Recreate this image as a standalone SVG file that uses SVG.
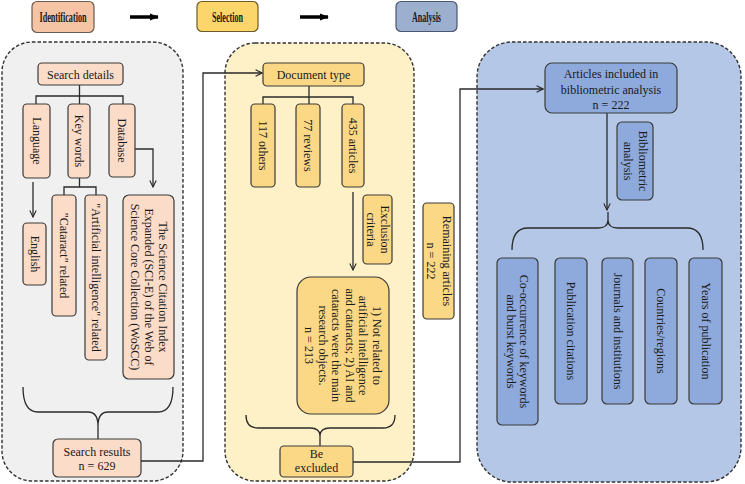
<svg xmlns="http://www.w3.org/2000/svg" width="745" height="484" viewBox="0 0 745 484">
<defs>
<style>
.t{font-family:"Liberation Serif","Times New Roman",serif;font-size:12px;fill:#1a1a1a;text-anchor:middle}
.h{font-family:"Liberation Serif","Times New Roman",serif;font-size:14.5px;font-weight:bold;fill:#1a1a1a;text-anchor:middle}
.panel{stroke:#333;stroke-width:1.4;stroke-dasharray:3.5,2}
.bx{stroke:#3a3a3a;stroke-width:1.2}
.pi{fill:#FADCC9}
.ys{fill:#FBD885}
.bl{fill:#8EA9DB}
.ln{fill:none;stroke:#2a2a2a;stroke-width:1.3}
</style>
<marker id="arr" viewBox="0 0 10 10" refX="9" refY="5" markerWidth="8" markerHeight="8" orient="auto" markerUnits="userSpaceOnUse"><path d="M1,1 L9,5 L1,9" fill="none" stroke="#2a2a2a" stroke-width="1.4"/></marker>
<marker id="big" viewBox="0 0 10 10" refX="9" refY="5" markerWidth="9" markerHeight="9" orient="auto" markerUnits="userSpaceOnUse"><path d="M0,1 L10,5 L0,9 Z" fill="#000"/></marker>
</defs>

<!-- headers -->
<g id="hdr-identification"><rect x="32" y="1.5" width="62" height="31" rx="5" fill="#F5C4A5" stroke="#6b5a50" stroke-width="1.2"/><text class="h" x="63" y="22" textLength="47" lengthAdjust="spacingAndGlyphs">Identification</text></g>
<g id="hdr-selection"><rect x="197" y="1.5" width="61" height="30" rx="5" fill="#FDD66B" stroke="#6b5a2a" stroke-width="1.2"/><text class="h" x="227.5" y="21.5" textLength="31" lengthAdjust="spacingAndGlyphs">Selection</text></g>
<g id="hdr-analysis"><rect x="396" y="1.5" width="61" height="30" rx="5" fill="#9CAFCF" stroke="#4a5570" stroke-width="1.2"/><text class="h" x="426.5" y="21.5" textLength="29" lengthAdjust="spacingAndGlyphs">Analysis</text></g>

<!-- panels -->
<g id="panel-identification"><rect class="panel" x="2" y="42" width="181" height="439" rx="30" fill="#F0F0F0"/></g>
<g id="panel-selection"><rect class="panel" x="225" y="43" width="189" height="438" rx="30" fill="#FEF0C7"/></g>
<g id="panel-analysis"><rect class="panel" x="477" y="42" width="264" height="440" rx="35" fill="#B4C7E7"/></g>

<!-- connectors -->
<g id="connectors">
<path d="M130,17 H158" stroke="#000" stroke-width="3.5" fill="none" marker-end="url(#big)"/>
<path d="M300,17 H328" stroke="#000" stroke-width="3.5" fill="none" marker-end="url(#big)"/>
<path class="ln" d="M79.5,85 V96 M36,104 V96 H123 V104 M79.5,96 V104"/>
<path class="ln" d="M33,182 V217" marker-end="url(#arr)"/>
<path class="ln" d="M79.5,178 V187 M64,195 V187 H96 V195"/>
<path class="ln" d="M135,149 H153 V187" marker-end="url(#arr)"/>
<path class="ln" d="M23,387 Q23,412 38,412 H88 Q98,412 98,426 V439 M173,387 Q173,412 158,412 H108 Q98,412 98,426"/>
<path class="ln" d="M141,461 H203 V73 H262" marker-end="url(#arr)"/>
<path class="ln" d="M309,86 V97 M263,104 V97 H353 V104 M309,97 V104"/>
<path class="ln" d="M353,192 V270" marker-end="url(#arr)"/>
<path class="ln" d="M246,415 Q246,428 258,428 H310 Q320,428 320,436 V446 M395,415 Q395,428 383,428 H330 Q320,428 320,436"/>
<path class="ln" d="M353,462 H460 V89 H543" marker-end="url(#arr)"/>
<path class="ln" d="M607,113 V210" marker-end="url(#arr)"/>
<path class="ln" d="M512,250 Q512,228 528,228 H598 Q608,228 608,220 V212 M703,250 Q703,228 687,228 H618 Q608,228 608,220"/>
</g>

<!-- identification nodes -->
<g id="search-details"><rect class="bx pi" x="38" y="63" width="85" height="22" rx="4"/><text class="t" x="80.5" y="78.5">Search details</text></g>
<g id="language"><rect class="bx pi" x="23" y="104" width="27" height="74" rx="4"/><text class="t" transform="translate(36.5,141) rotate(90)" x="0" y="4">Language</text></g>
<g id="key-words"><rect class="bx pi" x="68" y="104" width="22" height="74" rx="4"/><text class="t" transform="translate(79,141) rotate(90)" x="0" y="4">Key words</text></g>
<g id="database"><rect class="bx pi" x="109" y="104" width="26" height="73" rx="4"/><text class="t" transform="translate(122,140.5) rotate(90)" x="0" y="4">Database</text></g>
<g id="english"><rect class="bx pi" x="23" y="223" width="23" height="62" rx="4"/><text class="t" transform="translate(34.5,254) rotate(90)" x="0" y="4">English</text></g>
<g id="cataract"><rect class="bx pi" x="52" y="195" width="24" height="121" rx="4"/><text class="t" transform="translate(64,255.5) rotate(90)" x="0" y="4">"Cataract" related</text></g>
<g id="ai"><rect class="bx pi" x="85" y="195" width="22" height="165" rx="4"/><text class="t" transform="translate(96,277.5) rotate(90)" x="0" y="4">"Artificial intelligence" related</text></g>
<g id="woscc"><rect class="bx pi" x="123" y="195" width="51" height="184" rx="6"/><text class="t" transform="translate(148.5,287) rotate(90)"><tspan x="0" y="-10">The Science Citation Index</tspan><tspan x="0" y="4">Expanded (SCI-E) of the Web of</tspan><tspan x="0" y="18">Science Core Collection (WoSCC)</tspan></text></g>
<g id="search-results"><rect class="bx pi" x="53" y="439" width="88" height="38" rx="5"/><text class="t" x="97" y="456">Search results</text><text class="t" x="97" y="470">n = 629</text></g>

<!-- selection nodes -->
<g id="document-type"><rect class="bx ys" x="263" y="63" width="101" height="23" rx="4"/><text class="t" x="313.5" y="78.5">Document type</text></g>
<g id="others"><rect class="bx ys" x="251" y="104" width="24" height="83" rx="4"/><text class="t" transform="translate(263,145.5) rotate(90)" x="0" y="4">117 others</text></g>
<g id="reviews"><rect class="bx ys" x="296" y="104" width="24" height="83" rx="4"/><text class="t" transform="translate(308,145.5) rotate(90)" x="0" y="4">77 reviews</text></g>
<g id="articles"><rect class="bx ys" x="342" y="104" width="22" height="83" rx="4"/><text class="t" transform="translate(353,145.5) rotate(90)" x="0" y="4">435 articles</text></g>
<g id="exclusion-criteria"><rect class="bx ys" x="363" y="195" width="29" height="69" rx="4"/><text class="t" transform="translate(377.5,229.5) rotate(90)"><tspan x="0" y="-3">Exclusion</tspan><tspan x="0" y="11">criteria</tspan></text></g>
<g id="exclusion-detail"><rect class="bx ys" x="297" y="277" width="92" height="137" rx="14"/><text class="t" transform="translate(343,345.5) rotate(90)"><tspan x="0" y="-29.75">1) Not related to</tspan><tspan x="0" y="-16.25">artificial intelligence</tspan><tspan x="0" y="-2.75">and cataracts; 2) AI and</tspan><tspan x="0" y="10.75">cataracts were the main</tspan><tspan x="0" y="24.25">research objects.</tspan><tspan x="0" y="37.75">n = 213</tspan></text></g>
<g id="be-excluded"><rect class="bx ys" x="280" y="446" width="73" height="31" rx="4"/><text class="t" x="316.5" y="458">Be</text><text class="t" x="316.5" y="472">excluded</text></g>
<g id="remaining"><rect class="bx ys" x="423" y="203" width="31" height="116" rx="4"/><text class="t" transform="translate(438.5,261) rotate(90)"><tspan x="0" y="-4">Remaining articles</tspan><tspan x="0" y="12">n = 222</tspan></text></g>

<!-- analysis nodes -->
<g id="included"><rect class="bx bl" x="545" y="63" width="132" height="50" rx="7"/><text class="t" x="611" y="77.5">Articles included in</text><text class="t" x="611" y="93.5">bibliometric analysis</text><text class="t" x="611" y="109">n = 222</text></g>
<g id="bibliometric"><rect class="bx bl" x="617" y="122" width="36" height="78" rx="5"/><text class="t" transform="translate(635,161) rotate(90)"><tspan x="0" y="-3.5">Bibliometric</tspan><tspan x="0" y="11.5">analysis</tspan></text></g>
<g id="cooccurrence"><rect class="bx bl" x="497" y="258" width="41" height="167" rx="5"/><text class="t" transform="translate(517.5,341.5) rotate(90)"><tspan x="0" y="-2.5">Co-occurrence of keywords</tspan><tspan x="0" y="10.5">and burst keywords</tspan></text></g>
<g id="citations"><rect class="bx bl" x="555" y="258" width="32" height="146" rx="5"/><text class="t" transform="translate(571,331) rotate(90)" x="0" y="4">Publication citations</text></g>
<g id="journals"><rect class="bx bl" x="602" y="258" width="31" height="146" rx="5"/><text class="t" transform="translate(617.5,331) rotate(90)" x="0" y="4">Journals and institutions</text></g>
<g id="countries"><rect class="bx bl" x="645" y="258" width="32" height="146" rx="5"/><text class="t" transform="translate(661,331) rotate(90)" x="0" y="4">Countries/regions</text></g>
<g id="years"><rect class="bx bl" x="689" y="258" width="33" height="146" rx="5"/><text class="t" transform="translate(705.5,331) rotate(90)" x="0" y="4">Years of publication</text></g>
</svg>
